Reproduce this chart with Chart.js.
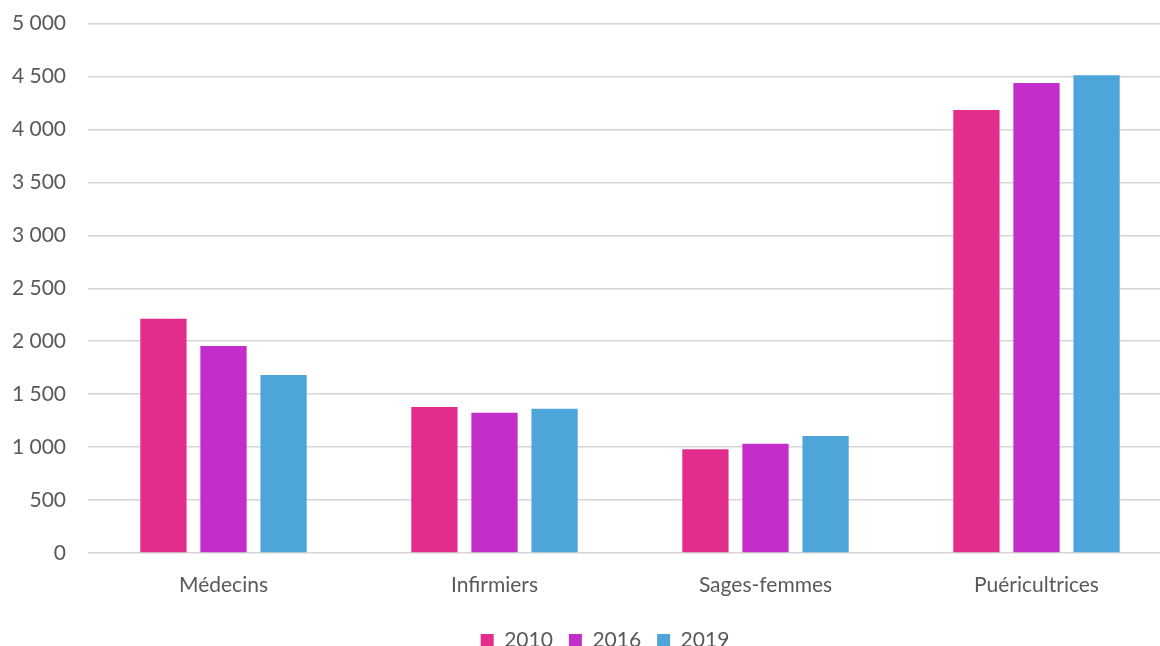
<!DOCTYPE html>
<html lang="fr">
<head>
<meta charset="utf-8">
<script src="https://cdn.jsdelivr.net/npm/chart.js@4/dist/chart.umd.min.js"></script>
<style>
  html, body { margin: 0; padding: 0; background: #fff; overflow: hidden; }
  #wrap { width: 1208px; height: 672px; margin-top: -11px; }
</style>
</head>
<body>
<div id="wrap"><canvas id="effectifsChart"></canvas></div>
<script>
var categories = ["Médecins", "Infirmiers", "Sages-femmes", "Puéricultrices"];
var years = ["2010", "2016", "2019"];
var values2010 = [2213, 1378, 981, 4184];
var values2016 = [1954, 1325, 1032, 4439];
var values2019 = [1680, 1362, 1104, 4512];
var colors = ["#e22d8c", "#c32dc9", "#4ea5da"];

// "4 500" style: space as thousands separator
function formatNombre(v) {
    return String(v).replace(/\B(?=(\d{3})+(?!\d))/g, " ");
}

// nudge the legend a bit to the right of the canvas centre
var legendShift = {
    id: "legendShift",
    afterLayout: function (chart) {
        chart.legend.left += 19;
        chart.legend.right += 19;
    },
};

var ctx = document.getElementById("effectifsChart").getContext("2d");

var data = {
    labels: categories,
    datasets: [values2010, values2016, values2019].map(function (vals, i) {
        return {
            label: years[i],
            data: vals,
            backgroundColor: colors[i],
            categoryPercentage: 0.665,
            barPercentage: 0.77,
        };
    }),
};

var options = {
    responsive: true,
    maintainAspectRatio: false,
    animation: false,
    layout: { padding: { top: 4, right: 36, left: 0, bottom: 0 } },
    plugins: {
        legend: {
            position: "bottom",
            labels: {
                boxWidth: 13,
                boxHeight: 13,
                padding: 16,
                color: "#595959",
                font: { family: "Lato", size: 21 },
            },
        },
        tooltip: { enabled: false },
    },
    scales: {
        x: {
            afterFit: function (scale) { scale.height = 61; },
            grid: { display: false, drawTicks: false },
            border: { display: false },
            ticks: {
                padding: 20,
                color: "#595959",
                font: { family: "Lato", size: 21 },
            },
        },
        y: {
            min: 0,
            max: 5000,
            afterFit: function (scale) { scale.width = 88; },
            grid: { color: "#d6d6d6", lineWidth: 1.6, drawTicks: false },
            border: { display: false },
            ticks: {
                stepSize: 500,
                padding: 22,
                color: "#595959",
                font: { family: "Lato", size: 21 },
                callback: function (v) { return formatNombre(v); },
            },
        },
    },
};

var myBarChart = new Chart(ctx, {
    type: "bar",
    data: data,
    options: options,
    plugins: [legendShift],
});
</script>
</body>
</html>
